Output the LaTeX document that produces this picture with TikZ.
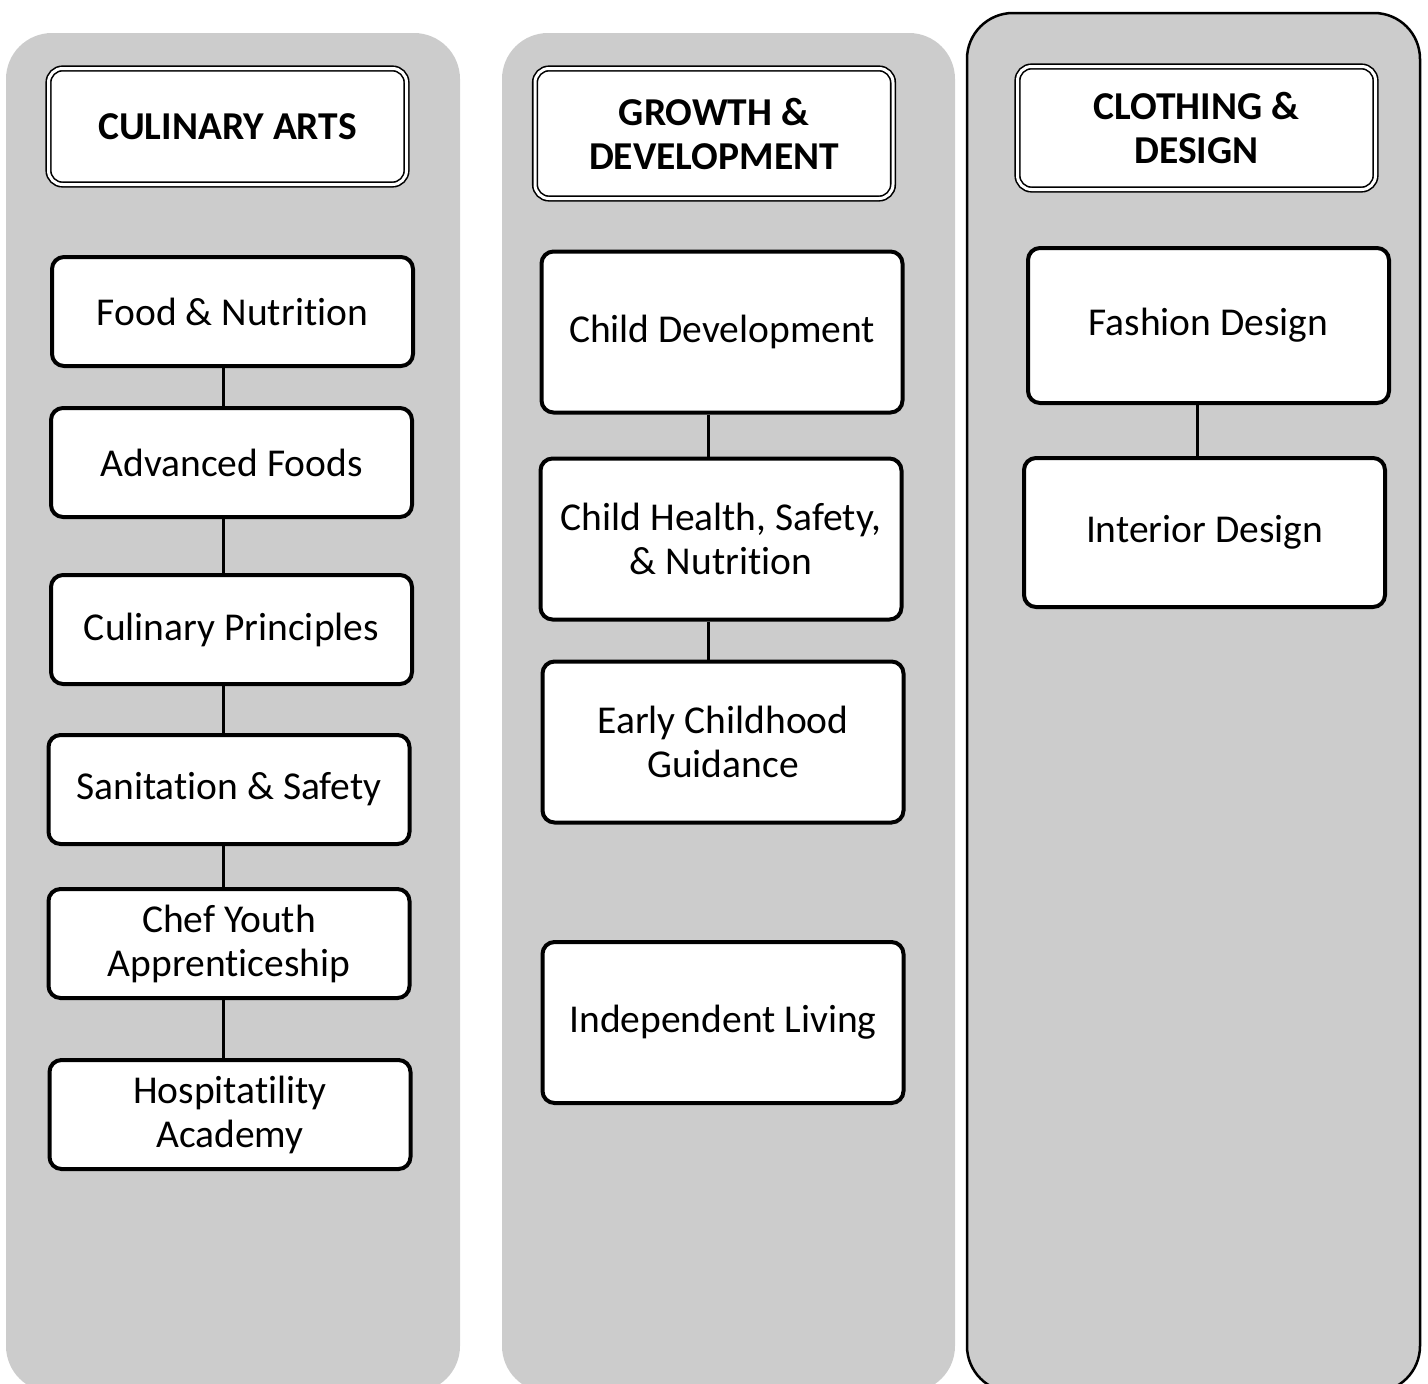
\documentclass[tikz,border=0pt]{standalone}
\usepackage{fontspec}
\setmainfont{Carlito}[Ligatures={NoCommon}]
\definecolor{panelgray}{RGB}{204,204,204}
\begin{document}
\begin{tikzpicture}[x=1pt,y=-1pt,
  panel/.style={fill=panelgray, rounded corners=46pt},
  box/.style={draw, line width=4pt, rounded corners=12pt, fill=white,
    minimum width=361pt, minimum height=109pt, align=center, inner sep=0pt,
    font=\fontsize{39.5}{44}\selectfont},
  tallbox/.style={box, minimum height=161pt},
  head/.style={draw, double, line width=1.6pt, double distance=3pt, rounded corners=14pt,
    fill=white, minimum width=358pt, align=center, inner sep=0pt,
    font=\fontsize{39.5}{44}\selectfont\bfseries},
  link/.style={line width=3pt}]
\useasboundingbox (0,0) rectangle (1428,1384);
\clip (0,0) rectangle (1428,1384);
% panels
\fill[panel] (6,33) rectangle (460,1392);
\fill[panel] (502,33) rectangle (955,1392);
\draw[panel, draw=black, line width=2.5pt] (967,13) rectangle (1420,1392);
% column 1
\node[head, minimum height=116pt] (h1) at (227.5,126.5) {CULINARY ARTS};
\node[box] (a1) at (232.5,311.5) {Food \& Nutrition};
\node[box] (a2) at (231.5,462.5) {Advanced Foods};
\node[box] (a3) at (231.5,629.5) {Culinary Principles};
\node[box] (a4) at (229,789.5) {Sanitation \& Safety};
\node[box] (a5) at (229,943.5) {Chef Youth\\Apprenticeship};
\node[box] (a6) at (230,1114.5) {Hospitatility\\Academy};
\draw[link] (223,0 |- a1.south) -- (223,0 |- a2.north);
\draw[link] (223,0 |- a2.south) -- (223,0 |- a3.north);
\draw[link] (223,0 |- a3.south) -- (223,0 |- a4.north);
\draw[link] (223,0 |- a4.south) -- (223,0 |- a5.north);
\draw[link] (223,0 |- a5.south) -- (223,0 |- a6.north);
% column 2
\node[head, minimum height=130pt] (h2) at (714,133.5) {GROWTH \&\\DEVELOPMENT};
\node[tallbox] (b1) at (722,332) {Child Development};
\node[tallbox] (b2) at (721,539) {Child Health, Safety,\\\& Nutrition};
\node[tallbox] (b3) at (723,742) {Early Childhood\\Guidance};
\node[tallbox] (b4) at (723,1022.5) {Independent Living};
\draw[link] (708,0 |- b1.south) -- (708,0 |- b2.north);
\draw[link] (708,0 |- b2.south) -- (708,0 |- b3.north);
% column 3
\node[head, minimum height=123pt] (h3) at (1196.5,128) {CLOTHING \&\\DESIGN};
\node[box, minimum height=155pt] (c1) at (1208.5,325.5) {Fashion Design};
\node[box, minimum height=149pt] (c2) at (1204.5,532.5) {Interior Design};
\draw[link] (1197,0 |- c1.south) -- (1197,0 |- c2.north);
\end{tikzpicture}
\end{document}
